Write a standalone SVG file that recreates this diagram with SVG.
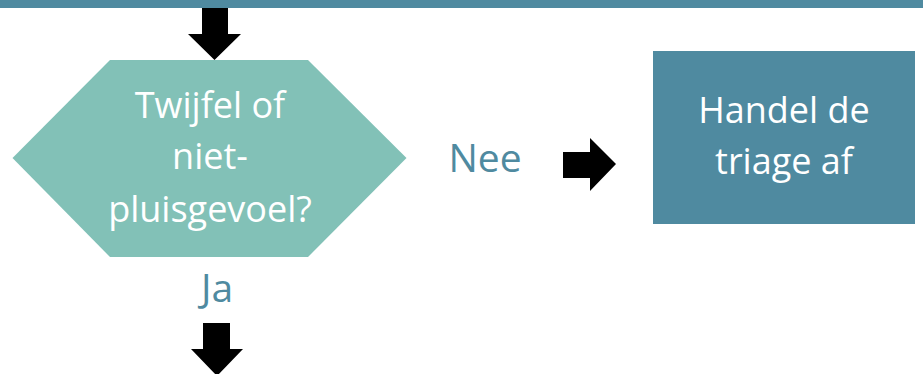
<svg xmlns="http://www.w3.org/2000/svg" width="923" height="374" viewBox="0 0 923 374">
<style>
.lbl{font-family:"Open Sans","Noto Sans",sans-serif;font-size:36px;fill:#ffffff;text-anchor:middle}
.edge{font-family:"Open Sans","Noto Sans",sans-serif;font-size:39px;fill:#4f8aa0;text-anchor:middle}
.arr{fill:#000000}
</style>
<rect x="0" y="0" width="923" height="8" fill="#4f8aa0"/>
<g id="decision">
<polygon points="110,60 308,60 406.5,158 308,257 110,257 12.5,158" fill="#82c1b7"/>
<text class="lbl" x="210" y="118">Twijfel of</text>
<text class="lbl" x="210" y="169">niet-</text>
<text class="lbl" x="210" y="222">pluisgevoel?</text>
</g>
<g id="handel">
<rect x="653" y="51" width="262" height="173" fill="#4f8aa0"/>
<text class="lbl" x="784" y="123">Handel de</text>
<text class="lbl" x="784" y="174">triage af</text>
</g>
<g id="connectors">
<polygon class="arr" points="202,8 228,8 228,34 241,34 214.5,60 188,34 202,34"/>
<polygon class="arr" points="563,152 590,152 590,138 616,164 590,191 590,178 563,178"/>
<polygon class="arr" points="203,323 230,323 230,349 243,349 217,376 191,349 203,349"/>
<text class="edge" x="485" y="172">Nee</text>
<text class="edge" x="217" y="302">Ja</text>
</g>
</svg>
